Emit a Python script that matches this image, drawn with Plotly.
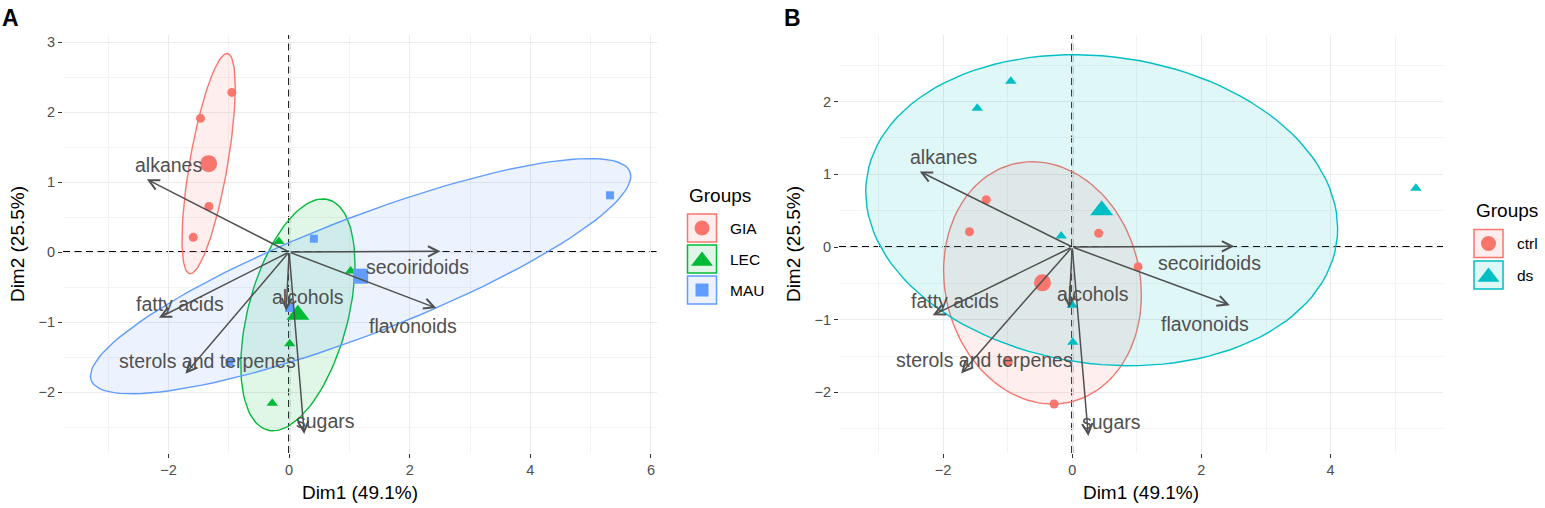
import numpy as np
import plotly.graph_objects as go

# ---------------- data ----------------
dim1 = [-0.95, -1.47, -1.33, -1.59, -0.17, 1.02, 0.01, -0.28, 0.41, 0.00, -0.99, 5.32]
dim2 = [2.28, 1.91, 0.65, 0.21, 0.15, -0.27, -1.31, -2.16, 0.19, -0.80, -1.58, 0.81]
site = ["GIA", "GIA", "GIA", "GIA", "LEC", "LEC", "LEC", "LEC", "MAU", "MAU", "MAU", "MAU"]
treat = ["ds", "ds", "ctrl", "ctrl", "ds", "ctrl", "ds", "ctrl", "ctrl", "ds", "ctrl", "ds"]

var_names = ["alkanes", "secoiridoids", "flavonoids", "fatty acids",
             "sterols and terpenes", "alcohols", "sugars"]
var_x = [-2.36, 2.51, 2.44, -2.16, -1.72, -0.05, 0.25]
var_y = [1.04, 0.01, -0.80, -0.94, -1.74, -0.84, -2.60]
label_x = [-2.00, 2.13, 2.06, -1.81, -1.36, 0.32, 0.61]
label_y = [1.24, -0.22, -1.06, -0.74, -1.55, -0.64, -2.41]

groups_a = ["GIA", "LEC", "MAU"]
groups_b = ["ctrl", "ds"]
ellipse_level = 0.6

x_title = "Dim1 (49.1%)"
y_title = "Dim2 (25.5%)"

# ---------------- styles ----------------
colors = {"GIA": "#F8766D", "LEC": "#00BA38", "MAU": "#619CFF",
          "ctrl": "#F8766D", "ds": "#00BFC4"}
symbols = {"GIA": "circle", "LEC": "triangle-up", "MAU": "square",
           "ctrl": "circle", "ds": "triangle-up"}
small_size = {"circle": 9, "triangle-up": 10, "square": 8}
big_size = {"circle": 17, "triangle-up": 20, "square": 15}
legend_size = {"circle": 15, "triangle-up": 19, "square": 13}
FONT = "Liberation Sans, Arial, sans-serif"
TEXT_GREY = "#505050"


def rgba(hexc, a):
    h = hexc.lstrip("#")
    return "rgba(%d,%d,%d,%.3f)" % (int(h[0:2], 16), int(h[2:4], 16), int(h[4:6], 16), a)


def ellipse(xs, ys, level):
    xs = np.asarray(xs, float)
    ys = np.asarray(ys, float)
    n = len(xs)
    d = n - 1
    qf = (d / 2.0) * ((1 - level) ** (-2.0 / d) - 1)
    r = np.sqrt(2 * qf)
    cov = np.cov(xs, ys)
    L = np.linalg.cholesky(cov)
    t = np.linspace(0, 2 * np.pi, 121)
    circ = np.vstack([np.cos(t), np.sin(t)])
    pts = np.array([[xs.mean()], [ys.mean()]]) + r * (L @ circ)
    return pts[0], pts[1]


fig = go.Figure()

W, H = 1545, 508
dom_a_x = [63 / W, 657 / W]
dom_b_x = [839 / W, 1443 / W]
dom_y = [(H - 453) / H, (H - 35) / H]


def add_panel(labels, groups, xa, ya):
    d1 = np.array(dim1)
    d2 = np.array(dim2)
    lab = np.array(labels)
    # dashed zero lines
    fig.add_shape(type="line", xref=xa, yref=ya + " domain", x0=0, x1=0, y0=0, y1=1,
                  line=dict(color="black", width=2, dash="7px,4.5px"), layer="below")
    fig.add_shape(type="line", xref=xa + " domain", yref=ya, x0=0, x1=1, y0=0, y1=0,
                  line=dict(color="black", width=2, dash="7px,4.5px"), layer="below")
    for g in groups:
        m = lab == g
        ex, ey = ellipse(d1[m], d2[m], ellipse_level)
        fig.add_trace(go.Scatter(x=ex, y=ey, mode="lines", fill="toself",
                                 fillcolor=rgba(colors[g], 0.12),
                                 line=dict(color=colors[g], width=1.4),
                                 hoverinfo="skip", showlegend=False,
                                 xaxis=xa, yaxis=ya))
    for g in groups:
        m = lab == g
        sym = symbols[g]
        fig.add_trace(go.Scatter(x=d1[m], y=d2[m], mode="markers",
                                 marker=dict(symbol=sym, size=small_size[sym],
                                             color=colors[g], line=dict(width=0)),
                                 showlegend=False, xaxis=xa, yaxis=ya, name=g))
        fig.add_trace(go.Scatter(x=[d1[m].mean()], y=[d2[m].mean()], mode="markers",
                                 marker=dict(symbol=sym, size=big_size[sym],
                                             color=colors[g], line=dict(width=0)),
                                 showlegend=False, xaxis=xa, yaxis=ya, name=g + " mean"))
    # variable arrows + labels
    for name, vx, vy, lx, ly in zip(var_names, var_x, var_y, label_x, label_y):
        fig.add_annotation(x=vx, y=vy, ax=0, ay=0, xref=xa, yref=ya,
                           axref=xa, ayref=ya, text="", showarrow=True,
                           arrowhead=5, arrowsize=1.35, arrowwidth=1.5,
                           arrowcolor=TEXT_GREY, standoff=0, startstandoff=0)
        fig.add_annotation(x=lx, y=ly, xref=xa, yref=ya, text=name, showarrow=False,
                           font=dict(family=FONT, size=19.5, color=TEXT_GREY),
                           xanchor="center", yanchor="middle")


add_panel(site, groups_a, "x", "y")
add_panel(treat, groups_b, "x2", "y2")

axis_common = dict(showgrid=True, gridcolor="#ebebeb", gridwidth=1.1,
                   zeroline=False, showline=False, ticks="outside", ticklen=4,
                   tickwidth=1.3, tickcolor="#333333",
                   tickfont=dict(family=FONT, size=14.5, color="#4d4d4d"),
                   automargin=False)

fig.update_layout(
    width=W, height=H,
    margin=dict(l=0, r=0, t=0, b=0),
    paper_bgcolor="white", plot_bgcolor="rgba(0,0,0,0)",
    showlegend=False,
    xaxis=dict(domain=dom_a_x, range=[-3.75, 6.10], anchor="y", dtick=2, tick0=0,
               minor=dict(dtick=1, tick0=0, showgrid=True, gridcolor="#f3f3f3", gridwidth=0.7),
               title=dict(text=x_title, font=dict(family=FONT, size=19, color="black"), standoff=8),
               **axis_common),
    yaxis=dict(domain=dom_y, range=[-2.871, 3.100], anchor="x", dtick=1, tick0=0,
               minor=dict(dtick=0.5, tick0=0, showgrid=True, gridcolor="#f3f3f3", gridwidth=0.7),
               title=dict(text=y_title, font=dict(family=FONT, size=19, color="black"), standoff=8),
               **axis_common),
    xaxis2=dict(domain=dom_b_x, range=[-3.61, 5.74], anchor="y2", dtick=2, tick0=0,
                minor=dict(dtick=1, tick0=0, showgrid=True, gridcolor="#f3f3f3", gridwidth=0.7),
                title=dict(text=x_title, font=dict(family=FONT, size=19, color="black"), standoff=8),
                **axis_common),
    yaxis2=dict(domain=dom_y, range=[-2.834, 2.917], anchor="x2", dtick=1, tick0=0,
                minor=dict(dtick=0.5, tick0=0, showgrid=True, gridcolor="#f3f3f3", gridwidth=0.7),
                title=dict(text=y_title, font=dict(family=FONT, size=19, color="black"), standoff=8),
                **axis_common),
    xaxis3=dict(domain=[0, 1], range=[0, W], anchor="y3", visible=False, fixedrange=True),
    yaxis3=dict(domain=[0, 1], range=[H, 0], anchor="x3", visible=False, fixedrange=True),
)

# ---------------- manual legends (pixel space on overlay axes) ----------------
def add_legend(groups, left, title_y, first_center, step):
    fig.add_annotation(x=left, y=title_y, xref="x3", yref="y3", text="Groups",
                       showarrow=False, xanchor="left", yanchor="middle",
                       font=dict(family=FONT, size=19, color="black"))
    for i, g in enumerate(groups):
        cy = first_center + i * step
        fig.add_shape(type="rect", xref="x3", yref="y3", x0=left + 0.5, x1=left + 29.5,
                      y0=cy - 14, y1=cy + 14, line=dict(color=colors[g], width=1.5),
                      fillcolor=rgba(colors[g], 0.12), layer="above")
        sym = symbols[g]
        fig.add_trace(go.Scatter(x=[left + 15], y=[cy + (2 if sym == "triangle-up" else 0)],
                                 mode="markers", xaxis="x3", yaxis="y3",
                                 marker=dict(symbol=sym, size=legend_size[sym],
                                             color=colors[g], line=dict(width=0)),
                                 hoverinfo="skip", showlegend=False))
        fig.add_annotation(x=left + 41, y=cy, xref="x3", yref="y3", text=g,
                           showarrow=False, xanchor="left", yanchor="middle",
                           font=dict(family=FONT, size=15.5, color="black"))


add_legend(groups_a, 687, 195, 228, 31)
add_legend(groups_b, 1473.5, 210, 243.5, 31.5)

# panel letters
fig.add_annotation(x=0, y=1 - 18 / H, xref="paper", yref="paper", text="<b>A</b>",
                   showarrow=False, xanchor="left", yanchor="middle",
                   font=dict(family=FONT, size=23, color="black"))
fig.add_annotation(x=782 / W, y=1 - 18 / H, xref="paper", yref="paper", text="<b>B</b>",
                   showarrow=False, xanchor="left", yanchor="middle",
                   font=dict(family=FONT, size=23, color="black"))

fig.write_html("out.html", config={"displayModeBar": False},
               post_script="document.body.style.margin='0';document.body.style.overflow='hidden';")
